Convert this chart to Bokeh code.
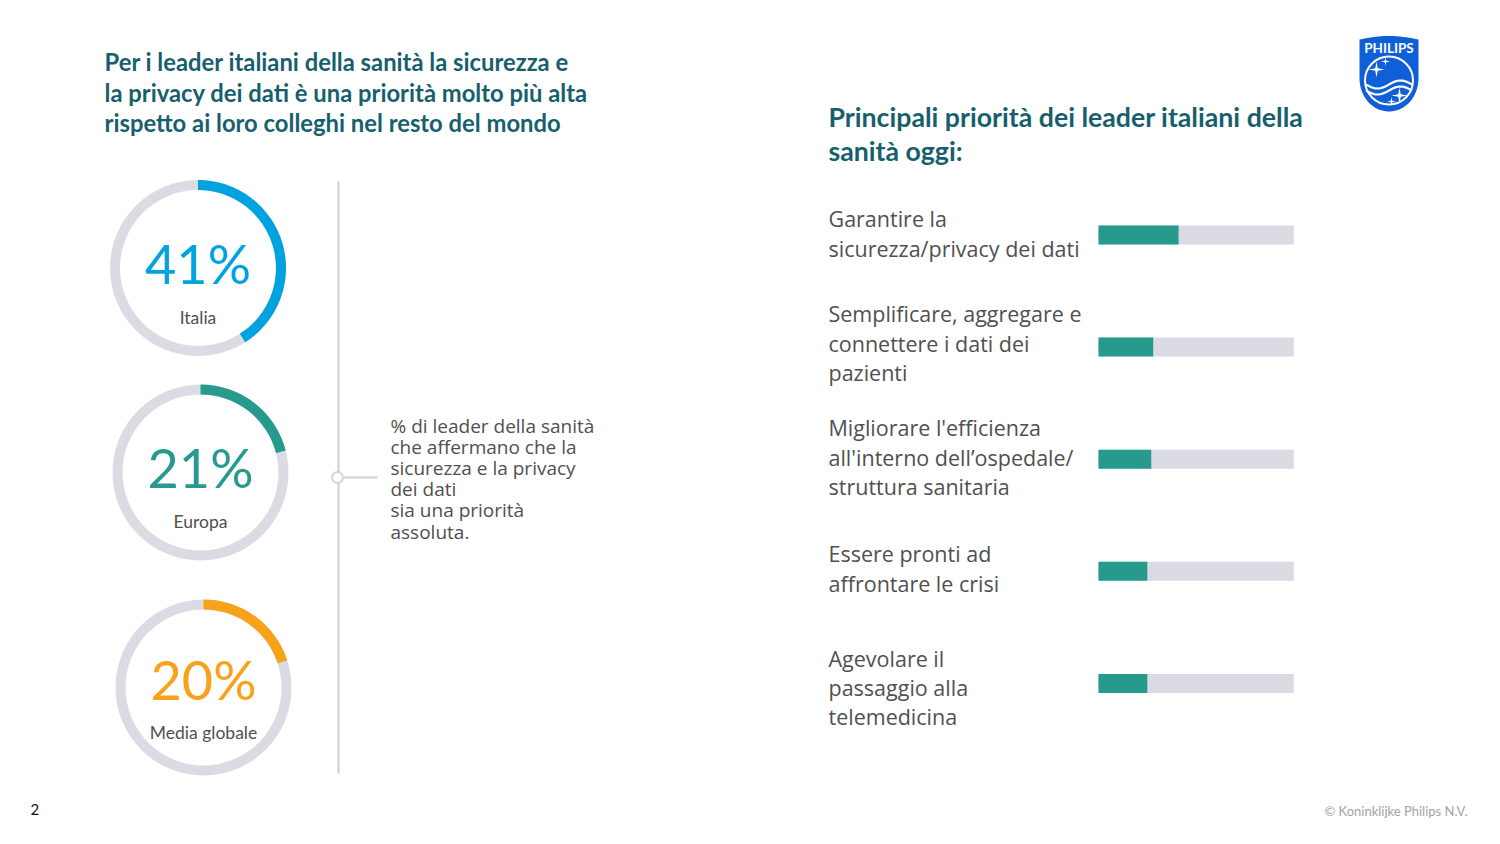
import numpy as np
from bokeh.plotting import figure
from bokeh.models import Range1d
from bokeh.core.properties import value
from bokeh.embed import file_html
from bokeh.resources import INLINE

# ---------------- data ----------------
title_lines = [
    "Per i leader italiani della sanità la sicurezza e",
    "la privacy dei dati è una priorità molto più alta",
    "rispetto ai loro colleghi nel resto del mondo",
]
donut_labels = ["Italia", "Europa", "Media globale"]
donut_values = [41, 21, 20]
donut_colors = ["#00A3E0", "#269A8D", "#F8A21A"]
note_lines = [
    "% di leader della sanità",
    "che affermano che la",
    "sicurezza e la privacy",
    "dei dati",
    "sia una priorità",
    "assoluta.",
]
right_title_lines = ["Principali priorità dei leader italiani della", "sanità oggi:"]
priority_labels = [
    ["Garantire la", "sicurezza/privacy dei dati"],
    ["Semplificare, aggregare e", "connettere i dati dei", "pazienti"],
    ["Migliorare l'efficienza", "all'interno dell\u2019ospedale/", "struttura sanitaria"],
    ["Essere pronti ad", "affrontare le crisi"],
    ["Agevolare il", "passaggio alla", "telemedicina"],
]
priority_values = [41, 28, 27, 25, 25]

# ---------------- styles ----------------
TEAL_DARK = "#175F6D"
TEXT = "#505050"
RING_GREY = "#DBDBE4"
BAR_GREY = "#DADAE3"
BAR_FILL = "#269A8D"
FONT = "Lato"
BODY = "Open Sans"

W, H = 1484, 828
def SY(sy):
    return 844 - sy

p = figure(width=W, height=H, x_range=Range1d(0, W), y_range=Range1d(844 - H, 844),
           output_backend="svg", toolbar_location=None, min_border=0,
           x_axis_location=None, y_axis_location=None)
p.grid.visible = False
p.outline_line_color = None
p.background_fill_color = "white"

# ---------------- left title ----------------
title_y = [61, 92, 122]
p.text(x=[104] * 3, y=[SY(v) for v in title_y], text=title_lines,
       text_font=value(FONT), text_font_style="bold", text_font_size="23.8px",
       text_color=TEAL_DARK, text_baseline="middle", text_align="left")

# ---------------- donuts ----------------
cx = [197.5, 200, 203]
cy = [267.5, 472, 687]
pct_off = [-5, -5, -8]
lab_off = [49, 49, 45]
R_OUT, R_IN = 88, 78
p.annulus(x=cx, y=[SY(v) for v in cy], inner_radius=R_IN, outer_radius=R_OUT,
          fill_color=RING_GREY, line_color=None)
start = [np.pi / 2 - 2 * np.pi * v / 100 for v in donut_values]
p.annular_wedge(x=cx, y=[SY(v) for v in cy], inner_radius=R_IN, outer_radius=R_OUT,
                start_angle=start, end_angle=[np.pi / 2] * 3, direction="anticlock",
                fill_color=donut_colors, line_color=None)
p.text(x=cx, y=[SY(v + o) for v, o in zip(cy, pct_off)], text=[f"{v}%" for v in donut_values],
       text_font=value(FONT), text_font_size="54px", text_color=donut_colors,
       text_baseline="middle", text_align="center")
p.text(x=cx, y=[SY(v + o) for v, o in zip(cy, lab_off)], text=donut_labels,
       text_font=value(FONT), text_font_size="17.5px", text_color=TEXT,
       text_baseline="middle", text_align="center")

# ---------------- divider and note ----------------
p.segment(x0=[338], y0=[SY(181)], x1=[338], y1=[SY(773)], line_color="#CFCFCF", line_width=2)
p.segment(x0=[343], y0=[SY(477)], x1=[377], y1=[SY(477)], line_color="#CFCFCF", line_width=2)
p.scatter(x=[337], y=[SY(477)], size=11, marker="circle", fill_color="white",
          line_color="#D5D5D5", line_width=2)
note_y = [425, 446, 467, 488, 509, 531]
p.text(x=[390] * len(note_lines), y=[SY(v) for v in note_y], text=note_lines,
       text_font=value(BODY), text_font_size="19px", text_color=TEXT,
       text_baseline="middle", text_align="left")

# ---------------- right title ----------------
p.text(x=[828, 828], y=[SY(116), SY(150)], text=right_title_lines,
       text_font=value(FONT), text_font_style="bold", text_font_size="26.7px",
       text_color=TEAL_DARK, text_baseline="middle", text_align="left")

# ---------------- priority bars ----------------
BAR_X0, BAR_W = 1098.0, 195.3          # pixel position of 0% and width of 100%
ROW0, ROW_STEP = 234.5, 112.1           # pixel centre of first row, step between rows
p.extra_x_ranges = {"pct": Range1d((0 - BAR_X0) / BAR_W * 100, (W - BAR_X0) / BAR_W * 100)}
p.extra_y_ranges = {"row": Range1d((H - ROW0) / ROW_STEP, (0 - ROW0) / ROW_STEP)}
rows = list(range(len(priority_values)))
bh = 19 / ROW_STEP
p.hbar(y=rows, left=0, right=[100] * len(rows), height=bh, fill_color=BAR_GREY,
       line_color=None, x_range_name="pct", y_range_name="row")
p.hbar(y=rows, left=0, right=priority_values, height=bh, fill_color=BAR_FILL,
       line_color=None, x_range_name="pct", y_range_name="row")

label_y = [[218, 248], [313, 343, 372], [427, 457, 486], [553, 583], [658, 687, 716]]
lx, ly, lt = [], [], []
for lines, ys in zip(priority_labels, label_y):
    for t, yy in zip(lines, ys):
        lx.append(828); ly.append(SY(yy)); lt.append(t)
p.text(x=lx, y=ly, text=lt, text_font=value(BODY), text_font_size="21.5px",
       text_color=TEXT, text_baseline="middle", text_align="left")

# ---------------- footer ----------------
p.text(x=[30], y=[SY(809)], text=["2"], text_font=value(FONT), text_font_size="15px",
       text_color="#111111", text_baseline="middle", text_align="left")
p.text(x=[1467], y=[SY(810)], text=["\u00a9 Koninklijke Philips N.V."], text_font=value(FONT),
       text_font_size="13px", text_color="#A3A3A3", text_baseline="middle", text_align="right")

# ---------------- Philips shield logo ----------------
LX0, LX1, LTOP, LMID, LBOT = 1359.0, 1418.0, 39.0, 78.0, 111.0
lcx = (LX0 + LX1) / 2
top = np.linspace(0, 1, 20)
top_x = LX0 + (LX1 - LX0) * top
top_y = LTOP - 3.5 * np.sin(np.pi * top)
th = np.linspace(0, np.pi, 30)
bot_x = lcx + (LX1 - LX0) / 2 * np.cos(th)
bot_y = LMID + (LBOT - LMID) * np.sin(th)
sx = list(top_x) + [LX1] + list(bot_x) + [LX0]
sy = list(top_y) + [LMID] + list(bot_y) + [LMID]
p.patch(x=sx, y=[SY(v) for v in sy], fill_color="#0E5FD8", line_color=None)
p.text(x=[lcx], y=[SY(47)], text=["PHILIPS"], text_font=value(FONT), text_font_style="bold",
       text_font_size="13.5px", text_color="white", text_baseline="middle", text_align="center")
p.circle(x=[lcx], y=[SY(80)], radius=24, fill_color=None, line_color="white", line_width=2)
wx = np.linspace(lcx - 23, lcx + 23, 40)
for off in (0, 6):
    wy = 84 + off - 4 * np.sin((wx - lcx) / 46 * 2 * np.pi)
    p.line(x=wx, y=[SY(v) for v in wy], line_color="white", line_width=2.2)

def star(x0, y0, r):
    a = np.linspace(0, 2 * np.pi, 9)[:-1] + np.pi / 2
    rr = np.where(np.arange(8) % 2 == 0, r, r * 0.22)
    return list(x0 + rr * np.cos(a)), list(SY(y0) + rr * np.sin(a))

stars = [(1376, 69, 8), (1385, 61, 4.5), (1399, 95, 8), (1391, 101, 4.5)]
xs, ys = [], []
for s in stars:
    a, b = star(*s)
    xs.append(a); ys.append(b)
p.patches(xs=xs, ys=ys, fill_color="white", line_color=None)

open("out.html", "w").write(file_html(p, INLINE))
